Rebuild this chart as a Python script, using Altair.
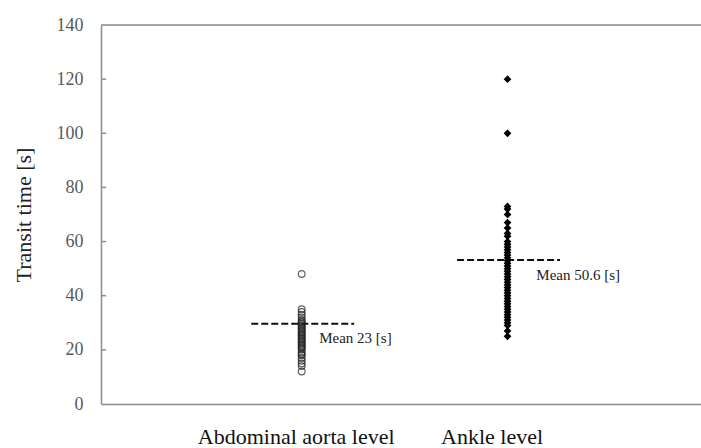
import altair as alt
import pandas as pd

# ---- data ----
categories = ["Abdominal aorta level", "Ankle level"]
cat_pos = [1, 2]

abdominal_values = [12, 14, 15, 16, 17, 18, 18.5, 19, 20, 20.5, 21, 21.5, 22, 22.5,
                    23, 23.5, 24, 24.5, 25, 25.5, 26, 26.5, 27, 27.5, 28, 28.5, 29,
                    29.5, 30, 30.5, 31, 32, 33, 34, 35, 48]
ankle_values = [25, 27, 29, 30, 31, 32, 33, 34, 35, 36, 37, 38, 39, 40, 41, 42, 43,
                44, 45, 46, 47, 48, 49, 50, 51, 52, 53, 54, 55, 56, 57, 58, 59, 60,
                62, 63, 65, 67, 70, 72, 73, 100, 120]

mean_line_values = [29.6, 53.2]
mean_labels = ["Mean 23 [s]", "Mean 50.6 [s]"]
y_ticks = [0, 20, 40, 60, 80, 100, 120, 140]

# ---- tables ----
abd = pd.DataFrame({"x": cat_pos[0], "v": abdominal_values})
ank = pd.DataFrame({"x": cat_pos[1], "v": ankle_values})
means = pd.DataFrame({
    "x": [p - 0.245 for p in cat_pos],
    "x2": [p + 0.255 for p in cat_pos],
    "v": mean_line_values,
    "tx": [cat_pos[0] + 0.085, cat_pos[1] + 0.14],
    "ty": [24.3, 47.6],
    "label": mean_labels,
})

FONT = "Liberation Serif"
X0, X1 = 0.025, 2.94
xscale = alt.Scale(domain=[X0, X1], nice=False, zero=False)
yscale = alt.Scale(domain=[0, 140], nice=False)

label_expr = "datum.value == 1 ? '%s' : '%s'" % (categories[0], categories[1])

x_axis = alt.Axis(values=cat_pos, labelExpr=label_expr, title=None, grid=False,
                  ticks=False, domainColor="#8c8c8c", domainWidth=1.5,
                  labelFont=FONT, labelFontSize=22, labelColor="#111111",
                  labelPadding=22, labelLimit=0, orient="bottom",
                  labelOffset={"condition": {"test": "datum.value == 2", "value": -16},
                               "value": -6})
y_axis = alt.Axis(values=y_ticks, title="Transit time [s]", grid=False, orient="left",
                  tickSize=0, domainColor="#8c8c8c", domainWidth=1.5,
                  labelFont=FONT, labelFontSize=18, labelColor="#595959",
                  labelPadding=18, titleFont=FONT, titleFontSize=22, labelLimit=0,
                  titleFontWeight="normal", titleColor="#222222", titlePadding=21)

X = lambda f: alt.X(f, scale=xscale, axis=x_axis)
Y = lambda f: alt.Y(f, scale=yscale, axis=y_axis)

top_border = alt.Chart(pd.DataFrame({"v": [140]})).mark_rule(
    color="#8c8c8c", strokeWidth=1.5).encode(y=Y("v:Q"))

# inward tick marks on the y axis
tick_layer = alt.Chart(pd.DataFrame({"v": y_ticks[1:-1]})).mark_rule(
    color="#8c8c8c", strokeWidth=1.5).encode(
    x=alt.datum(X0, scale=xscale), x2=alt.datum(X0 + 0.025),
    y=Y("v:Q"),
)

pts_abd = alt.Chart(abd).mark_point(shape="circle", filled=False, size=45,
                                    color="#222222", strokeWidth=1.2).encode(
    x=X("x:Q"), y=Y("v:Q"),
)
pts_ank = alt.Chart(ank).mark_point(shape="diamond", filled=True, size=60,
                                    color="#000000", opacity=1).encode(
    x=X("x:Q"), y=Y("v:Q"),
)
mean_rules = alt.Chart(means).mark_rule(strokeDash=[7, 3], strokeWidth=2,
                                        color="#111111").encode(
    x=X("x:Q"), x2="x2:Q", y=Y("v:Q"),
)
mean_text = alt.Chart(means).mark_text(align="left", baseline="middle", font=FONT,
                                       fontSize=15, color="#222222").encode(
    x=X("tx:Q"), y=Y("ty:Q"), text="label:N",
)

chart = alt.layer(top_border, tick_layer, mean_rules, pts_abd, pts_ank, mean_text).properties(
    width=600, height=379,
    autosize=alt.AutoSizeParams(type="none"),
    padding={"left": 101, "top": 25, "right": 0, "bottom": 44},
).configure_view(stroke=None).configure(background="white")

chart.save("out.html", embed_options={"renderer": "svg", "actions": False})
